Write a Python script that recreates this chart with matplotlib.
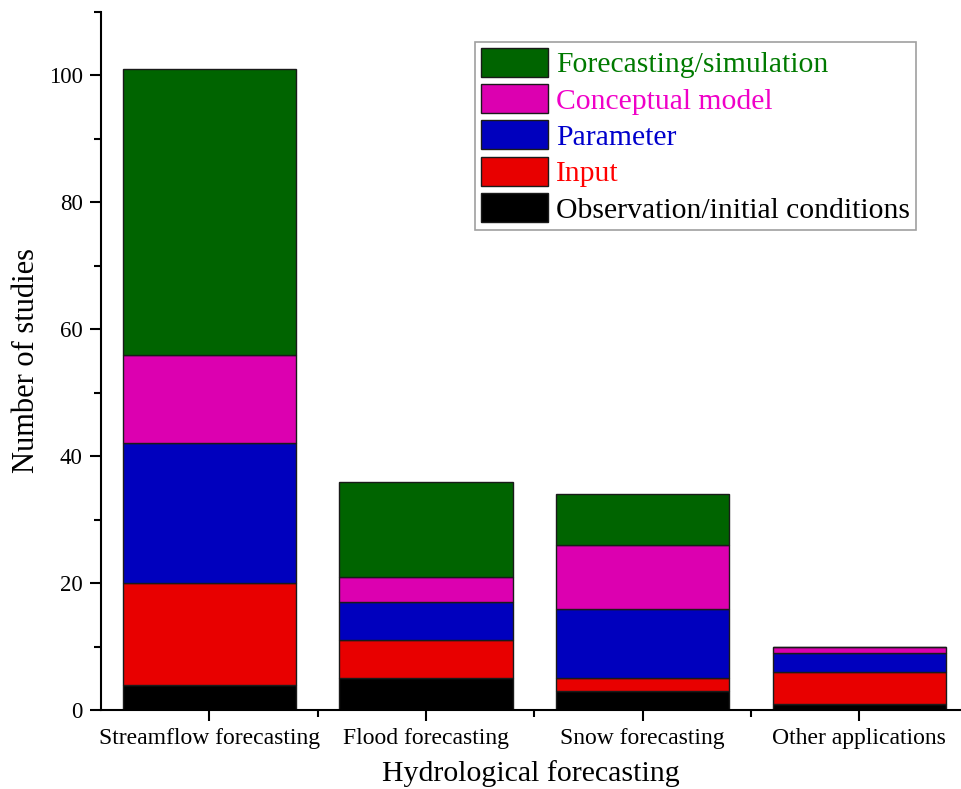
import matplotlib
matplotlib.use("Agg")
import matplotlib.pyplot as plt
import numpy as np
from matplotlib.ticker import MultipleLocator, FixedLocator

plt.rcParams['font.family'] = ['Liberation Serif', 'DejaVu Serif']

categories = ["Streamflow forecasting", "Flood forecasting", "Snow forecasting", "Other applications"]
observation = [4, 5, 3, 1]
input_ = [16, 6, 2, 5]
parameter = [22, 6, 11, 3]
conceptual = [14, 4, 10, 1]
forecasting = [45, 15, 8, 0]

series = [
    ("Observation/initial conditions", observation, "#000000", "#000000"),
    ("Input", input_, "#E80000", "#FF0000"),
    ("Parameter", parameter, "#0000BE", "#0000CC"),
    ("Conceptual model", conceptual, "#DC00B0", "#F000C8"),
    ("Forecasting/simulation", forecasting, "#006400", "#007A00"),
]

fig = plt.figure(figsize=(9.61, 7.89), dpi=100)
ax = fig.add_axes([0.105, 0.1, 0.895, 0.885])

x = np.arange(len(categories))
bottom = np.zeros(len(categories))
handles = []
for name, vals, color, tcolor in series:
    vals = np.array(vals, dtype=float)
    b = ax.bar(x, vals, 0.8, bottom=bottom, color=color, edgecolor="#1a1a1a", linewidth=1.0, label=name)
    handles.append(b)
    bottom += vals

ax.set_xlim(-0.5, 3.47)
ax.set_ylim(0, 110)
ax.set_xticks(x)
ax.set_xticklabels(categories, fontsize=17)
ax.xaxis.set_minor_locator(FixedLocator([0.5, 1.5, 2.5]))
ax.yaxis.set_major_locator(MultipleLocator(20))
ax.yaxis.set_minor_locator(MultipleLocator(10))
ax.tick_params(axis='y', labelsize=16.5)
ax.tick_params(which='major', direction='out', length=8, width=1.5, pad=5)
ax.tick_params(which='minor', direction='out', length=5, width=1.5)
for s in ['top', 'right']:
    ax.spines[s].set_visible(False)
for s in ['left', 'bottom']:
    ax.spines[s].set_linewidth(1.5)

ax.set_xlabel("Hydrological forecasting", fontsize=21.5, labelpad=8)
ax.set_ylabel("Number of studies", fontsize=22, labelpad=6)

leg = ax.legend(handles[::-1], [s[0] for s in series][::-1], loc='upper left',
                bbox_to_anchor=(0.435, 0.957), fontsize=21.3, frameon=True, fancybox=False,
                edgecolor="#888888", handlelength=2.25, handleheight=1.12, labelspacing=0.2,
                handletextpad=0.3, borderpad=0.2, borderaxespad=0)
leg.get_frame().set_linewidth(1.2)
for txt, s in zip(leg.get_texts(), series[::-1]):
    txt.set_color(s[3])

fig.savefig("out.png", dpi=100)
